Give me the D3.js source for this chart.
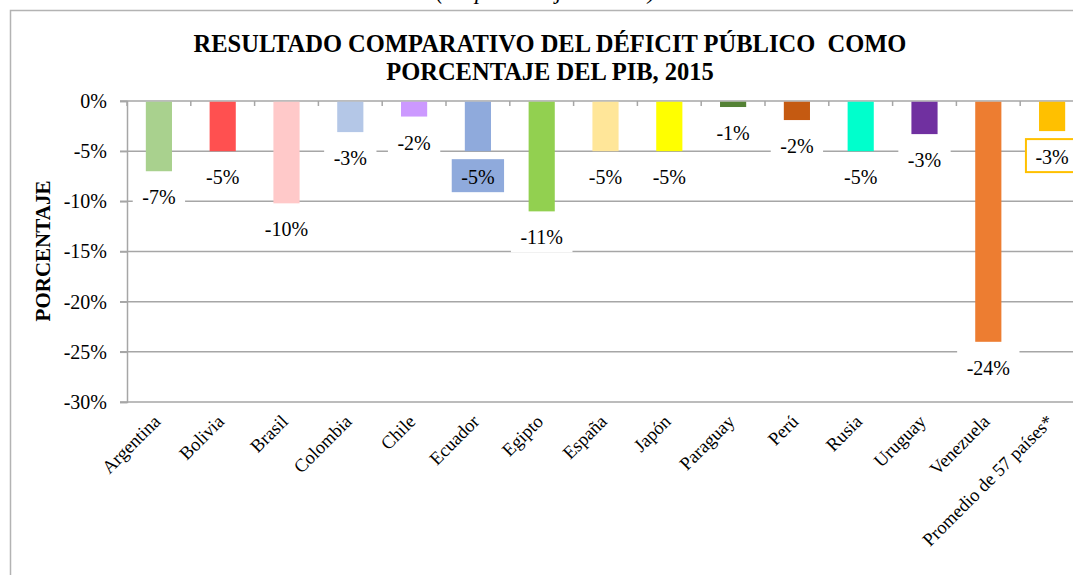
<!DOCTYPE html>
<html>
<head>
<meta charset="utf-8">
<script src="https://cdn.jsdelivr.net/npm/d3@7"></script>
<style>
  body { margin: 0; background: #fff; }
  text { font-family: "Liberation Serif", "Times New Roman", serif; fill: #000; }
</style>
</head>
<body>
<div id="wrapper"></div>
<script>
const countries = ["Argentina", "Bolivia", "Brasil", "Colombia", "Chile", "Ecuador", "Egipto",
  "España", "Japón", "Paraguay", "Perú", "Rusia", "Uruguay", "Venezuela", "Promedio de 57 países*"]
const deficit = [-7.0, -5.0, -10.2, -3.1, -1.55, -5.0, -11.0, -5.0, -5.0, -0.6, -1.9, -5.0, -3.3, -24.0, -3.0]
const barColors = ["#A9D18E", "#FF5050", "#FFC9C9", "#B4C7E7", "#CC99FF", "#8FAADC", "#92D050",
  "#FFE699", "#FFFF00", "#548235", "#C55A11", "#00FFCC", "#7030A0", "#ED7D31", "#FFC000"]
const yTicks = [0, -5, -10, -15, -20, -25, -30]

const dataset = countries.map((c, i) => ({ name: c, value: deficit[i], color: barColors[i] }))

const width = 1073
const height = 575

const svg = d3.select("#wrapper")
  .append("svg")
    .attr("width", width)
    .attr("height", height)

// chart frame (cut off at right and bottom like the source)
svg.append("rect")
  .attr("x", 10.5)
  .attr("y", 10.5)
  .attr("width", 1100)
  .attr("height", 600)
  .attr("fill", "none")
  .attr("stroke", "#b3b3b3")
  .attr("stroke-width", 1.5)

// caption fragment above the frame
svg.append("text")
  .attr("x", 436)
  .attr("y", -1)
  .style("font-size", "23px")
  .style("font-style", "italic")
  .text("(En porcentaje del PIB)")

const title = svg.append("text")
  .attr("text-anchor", "middle")
  .style("font-size", "24.5px")
  .style("font-weight", "bold")
title.append("tspan").attr("x", 550).attr("y", 52)
  .text("RESULTADO COMPARATIVO DEL DÉFICIT PÚBLICO  COMO")
  .style("white-space", "pre")
title.append("tspan").attr("x", 550).attr("y", 79.5)
  .text("PORCENTAJE DEL PIB, 2015")

const xScale = d3.scaleBand()
  .domain(countries)
  .range([127, 1084])
  .paddingInner(0.59)
  .paddingOuter(0.295)

const yScale = d3.scaleLinear()
  .domain([-30, 0])
  .range([402, 101])

// gridlines
svg.append("g")
  .selectAll("line")
  .data(yTicks)
  .enter().append("line")
    .attr("x1", 120)
    .attr("x2", 1090)
    .attr("y1", d => yScale(d))
    .attr("y2", d => yScale(d))
    .attr("stroke", "#a6a6a6")
    .attr("stroke-width", 1.5)

// y axis
const yAxisGenerator = d3.axisLeft(yScale)
  .tickValues(yTicks)
  .tickSize(7)
  .tickPadding(13)
  .tickFormat(d => d + "%")

const yAxis = svg.append("g")
  .attr("transform", "translate(127,0)")
  .call(yAxisGenerator)
yAxis.attr("font-family", null)
yAxis.select(".domain").attr("stroke", "#a6a6a6").attr("stroke-width", 1.5)
yAxis.selectAll(".tick line").attr("stroke", "#a6a6a6").attr("stroke-width", 1.5)
yAxis.selectAll(".tick text")
  .style("font-size", "20px")
  .attr("fill", "#000")

// category boundary ticks on the 0% line
const step = xScale.step()
svg.append("g")
  .selectAll("line")
  .data(d3.range(countries.length + 1))
  .enter().append("line")
    .attr("x1", i => 127 + i * step)
    .attr("x2", i => 127 + i * step)
    .attr("y1", yScale(0))
    .attr("y2", yScale(0) + 5)
    .attr("stroke", "#a6a6a6")
    .attr("stroke-width", 1.5)

// bars
svg.append("g")
  .selectAll("rect")
  .data(dataset)
  .enter().append("rect")
    .attr("x", d => xScale(d.name))
    .attr("y", yScale(0) + 0.75)
    .attr("width", xScale.bandwidth())
    .attr("height", d => yScale(d.value) - yScale(0) - 0.75)
    .attr("fill", d => d.color)

// data labels
const fmt = d => d3.format(".0f")(d).replace("\u2212", "-")
const labels = svg.append("g")
  .selectAll("g")
  .data(dataset)
  .enter().append("g")
    .attr("transform", d => `translate(${xScale(d.name) + xScale.bandwidth() / 2},${yScale(d.value)})`)

const labelBoxes = labels.append("rect")
  .attr("y", 8)
  .attr("height", 33)
  .attr("fill", d => d.name === "Ecuador" ? "#8FAADC" : "#fff")
  .attr("stroke", d => d.name.startsWith("Promedio") ? "#FFC000" : "none")
  .attr("stroke-width", 2)

const labelTexts = labels.append("text")
  .attr("y", 33)
  .attr("text-anchor", "middle")
  .style("font-size", "20px")
  .text(d => fmt(d.value) + "%")

labelTexts.each(function (d, i) {
  const w = this.getComputedTextLength() + 19
  d3.select(labelBoxes.nodes()[i])
    .attr("x", -w / 2)
    .attr("width", w)
})

// y axis title
svg.append("text")
  .attr("transform", "translate(50,251) rotate(-90)")
  .attr("text-anchor", "middle")
  .style("font-size", "21px")
  .style("font-weight", "bold")
  .text("PORCENTAJE")

// category labels
svg.append("g")
  .selectAll("text")
  .data(countries)
  .enter().append("text")
    .attr("transform", d => `translate(${xScale(d) + xScale.bandwidth() / 2 - 2},${yScale(-30) + 16}) rotate(-45)`)
    .attr("text-anchor", "end")
    .attr("dy", "0.35em")
    .style("font-size", "18.5px")
    .text(d => d)
</script>
</body>
</html>
